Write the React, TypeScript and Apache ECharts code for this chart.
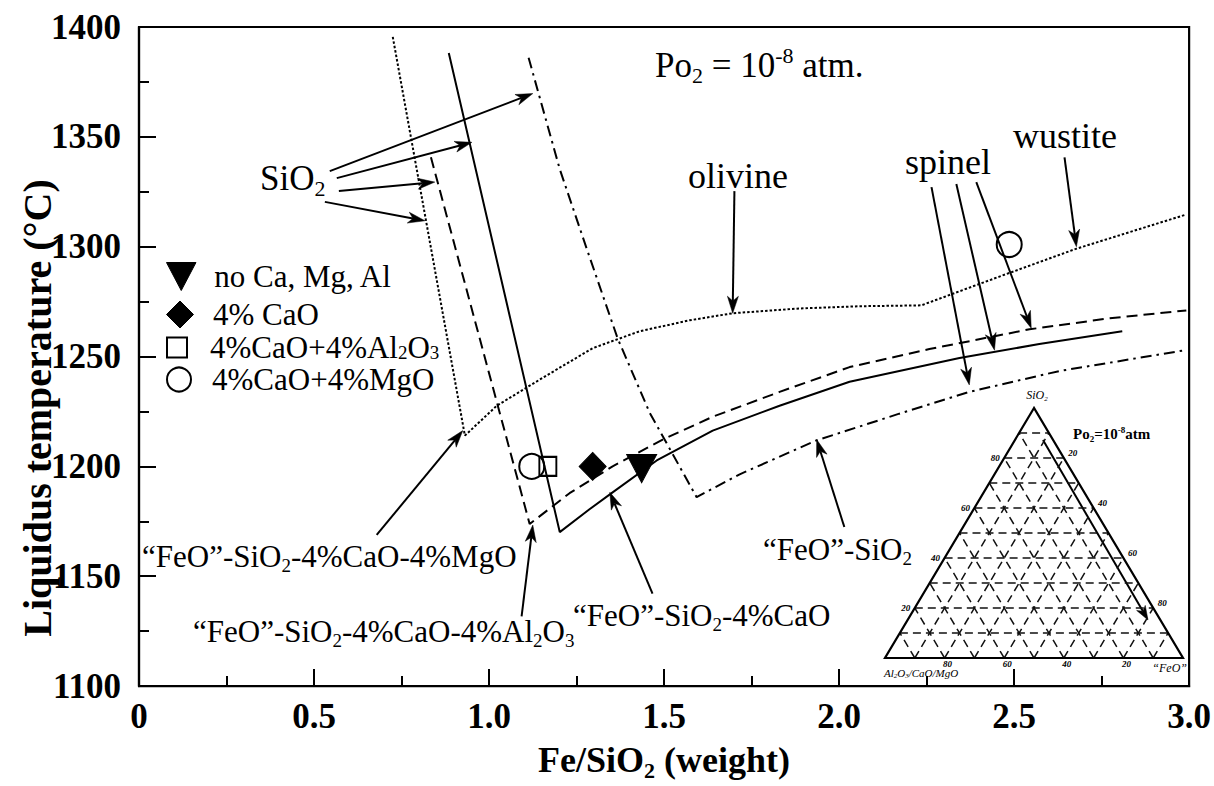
import React, { useEffect, useRef } from 'react';
import * as echarts from 'echarts';

const SERIF = '"Liberation Serif", "Times New Roman", Times, serif';

// ---- axes ----
const xMin = 0;
const xMax = 3.0;
const xInterval = 0.5;
const yMin = 1100;
const yMax = 1400;
const yInterval = 50;

// ---- liquidus curves [Fe/SiO2, T (°C)] ----
// "FeO"-SiO2-4%CaO-4%MgO (dotted)
const curveCaOMgO: number[][] = [
  [0.725, 1395.5], [0.931, 1214.0], [1.022, 1227.6], [1.153, 1240.3], [1.296, 1253.8],
  [1.430, 1261.5], [1.573, 1266.5], [1.696, 1269.7], [1.887, 1271.9], [2.058, 1272.9],
  [2.235, 1273.3], [2.458, 1286.4], [2.678, 1299.1], [2.989, 1314.5],
];
// "FeO"-SiO2-4%CaO-4%Al2O3 (dashed)
const curveCaOAl2O3: number[][] = [
  [0.834, 1340.7], [1.116, 1173.8], [1.230, 1187.8], [1.353, 1200.0], [1.496, 1212.2],
  [1.639, 1222.6], [1.830, 1233.9], [2.030, 1245.2], [2.258, 1253.4], [2.544, 1262.4],
  [2.772, 1267.4], [2.992, 1271.0],
];
// "FeO"-SiO2-4%CaO (solid)
const curveCaO: number[][] = [
  [0.885, 1388.2], [1.202, 1170.1], [1.287, 1180.5], [1.353, 1188.2], [1.479, 1202.7],
  [1.639, 1216.3], [1.830, 1227.6], [2.030, 1238.5], [2.344, 1249.3], [2.572, 1255.7],
  [2.809, 1261.5],
];
// "FeO"-SiO2 (dash-dot)
const curveFeOSiO2: number[][] = [
  [1.113, 1386.0], [1.202, 1335.3], [1.279, 1299.1], [1.367, 1258.4], [1.459, 1224.4],
  [1.593, 1186.0], [1.716, 1196.4], [1.935, 1211.8], [2.172, 1224.0], [2.372, 1233.9],
  [2.629, 1243.4], [2.989, 1252.9],
];

// ---- measured points ----
const ptsNoCaMgAl: number[][] = [[1.436, 1199]];
const pts4CaO: number[][] = [[1.296, 1200]];
const pts4CaOAl2O3: number[][] = [[1.168, 1200]];
const pts4CaOMgO: number[][] = [[1.122, 1200], [2.486, 1301]];

// ---- annotation arrows [from, to] in data units ----
const arrowsData: number[][][] = [
  [[0.545, 1334.4], [1.125, 1369.7]],
  [[0.565, 1331.2], [0.951, 1347.5]],
  [[0.571, 1325.3], [0.845, 1329.4]],
  [[0.531, 1320.4], [0.817, 1311.8]],
  [[1.701, 1325.3], [1.696, 1269.7]],
  [[2.644, 1340.7], [2.678, 1300.0]],
  [[2.264, 1327.1], [2.372, 1237.1]],
  [[2.335, 1328.5], [2.444, 1252.9]],
  [[2.392, 1329.4], [2.549, 1262.9]],
  [[0.679, 1168.8], [0.925, 1216.3]],
  [[1.093, 1131.7], [1.125, 1173.3]],
  [[1.467, 1142.1], [1.345, 1188.2]],
  [[2.015, 1172.4], [1.936, 1212.2]],
];

// ---- inset ternary tick values ----
const ternaryTicks = [20, 40, 60, 80];
const ternaryDivisions = 10;

const legendLabels: Record<string, string> = {
  'no Ca, Mg, Al': '{n|no Ca, Mg, Al}',
  '4% CaO': '{n|4% CaO}',
  '4%CaO+4%Al2O3': '{n|4%CaO+4%Al}{s|2}{n|O}{s|3}',
  '4%CaO+4%MgO': '{n|4%CaO+4%MgO}',
};

const TRI_DOWN = 'path://M0,0L20,0L10,19Z';
const DIAMOND = 'path://M10,0L20,10L10,20L0,10Z';
const SQUARE = 'path://M0,0H20V20H0Z';

function richSet(size: number, weight: string = 'normal', fstyle: string = 'normal', lh?: number) {
  const small = Math.round(size * 0.62);
  return {
    n: { fontFamily: SERIF, fontSize: size, fontWeight: weight, fontStyle: fstyle, lineHeight: lh || Math.round(size * 1.2), fill: '#000', color: '#000' },
    s: { fontFamily: SERIF, fontSize: small, fontWeight: weight, fontStyle: fstyle, lineHeight: small, verticalAlign: 'bottom', fill: '#000', color: '#000' },
    p: { fontFamily: SERIF, fontSize: small, fontWeight: weight, fontStyle: fstyle, lineHeight: small, verticalAlign: 'top', fill: '#000', color: '#000' },
  };
}

function txt(text: string, x: number, y: number, size: number, opts: any = {}) {
  const weight = opts.weight || 'normal';
  const fstyle = opts.fstyle || 'normal';
  const align = opts.align || 'left';
  return {
    type: 'text',
    x,
    y,
    rotation: opts.rotation || 0,
    z: 60,
    silent: true,
    style: {
      text,
      fill: '#000',
      fontFamily: SERIF,
      fontSize: size,
      fontWeight: weight,
      fontStyle: fstyle,
      lineHeight: Math.round(size * 1.2),
      align,
      textAlign: align,
      verticalAlign: 'middle',
      textVerticalAlign: 'middle',
      rich: richSet(size, weight, fstyle),
    },
  };
}

function arrowShape(p1: number[], p2: number[], L: number, W: number, lw: number) {
  const dx = p2[0] - p1[0];
  const dy = p2[1] - p1[1];
  const len = Math.hypot(dx, dy) || 1;
  const ux = dx / len;
  const uy = dy / len;
  const bx = p2[0] - ux * L;
  const by = p2[1] - uy * L;
  const nx = p2[0] - ux * L * 0.72;
  const ny = p2[1] - uy * L * 0.72;
  return {
    type: 'group',
    children: [
      { type: 'line', shape: { x1: p1[0], y1: p1[1], x2: nx, y2: ny }, style: { stroke: '#000', lineWidth: lw } },
      {
        type: 'polygon',
        shape: { points: [[p2[0], p2[1]], [bx - uy * W, by + ux * W], [nx, ny], [bx + uy * W, by - ux * W]] },
        style: { fill: '#000', stroke: '#000', lineWidth: 0.5 },
      },
    ],
  };
}

function ternaryGraphics() {
  const A = [1034, 408];
  const B = [885, 658];
  const C = [1183, 658];
  const mix = (p: number[], q: number[], t: number) => [p[0] + (q[0] - p[0]) * t, p[1] + (q[1] - p[1]) * t];
  const els: any[] = [];
  const dash = { stroke: '#111', lineWidth: 1.5, lineDash: [8, 5], fill: null };
  for (let i = 1; i < ternaryDivisions; i++) {
    const t = i / ternaryDivisions;
    const segs = [
      [mix(B, A, t), mix(C, A, t)],
      [mix(C, B, t), mix(A, B, t)],
      [mix(B, C, t), mix(A, C, t)],
    ];
    segs.forEach((s) =>
      els.push({ type: 'line', silent: true, z: 40, shape: { x1: s[0][0], y1: s[0][1], x2: s[1][0], y2: s[1][1] }, style: dash })
    );
  }
  els.push({
    type: 'polygon',
    silent: true,
    z: 41,
    shape: { points: [A, B, C] },
    style: { fill: 'rgba(0,0,0,0)', stroke: '#000', lineWidth: 2.2 },
  });
  ternaryTicks.forEach((v) => {
    const l = mix(B, A, v / 100);
    els.push(txt(String(v), l[0] - 9, l[1], 9, { fstyle: 'italic', weight: 'bold', align: 'center' }));
    const r = mix(A, C, v / 100);
    els.push(txt(String(v), r[0] + 9, r[1] - 5, 9, { fstyle: 'italic', weight: 'bold', align: 'center' }));
    const b = mix(C, B, v / 100);
    els.push(txt(String(v), b[0] + 3, b[1] + 6, 9, { fstyle: 'italic', weight: 'bold', align: 'center' }));
  });
  els.push(txt('SiO{s|2}', 1037, 395, 12, { fstyle: 'italic', align: 'center' }));
  els.push(txt('Al{s|2}O{s|3}/CaO/MgO', 884, 673, 11, { fstyle: 'italic' }));
  els.push(txt('“FeO”', 1187, 668, 12, { fstyle: 'italic', align: 'right' }));
  els.push(txt('Po{s|2}=10{p|-8}atm', 1073, 434, 15, { weight: 'bold' }));
  const arr: any = arrowShape([1043, 440], [1148, 620], 14, 5, 2);
  arr.z = 42;
  arr.silent = true;
  els.push(arr);
  return els;
}

function buildOption() {
  const axisCommon = {
    type: 'value',
    axisLine: { show: true, onZero: false, lineStyle: { color: '#000', width: 2.2 } },
    axisTick: { show: true, inside: true, length: 17, lineStyle: { color: '#000', width: 2 } },
    minorTick: { show: true, splitNumber: 2, length: 10, lineStyle: { color: '#000', width: 2 } },
    splitLine: { show: false },
    minorSplitLine: { show: false },
  };
  const lineBase = (name: string, data: number[][], type: any) => ({
    name,
    type: 'line',
    data,
    showSymbol: false,
    symbol: 'none',
    silent: true,
    z: 3,
    lineStyle: { color: '#000', width: 2, type, opacity: 1 },
  });
  const scatterBase = (name: string, data: number[][], symbol: string, size: any, filled: boolean) => ({
    name,
    type: 'scatter',
    data,
    symbol,
    symbolSize: size,
    z: 6,
    silent: true,
    itemStyle: filled
      ? { color: '#000', borderColor: '#000', borderWidth: 1, opacity: 1 }
      : { color: 'rgba(0,0,0,0)', borderColor: '#000', borderWidth: 2, opacity: 1 },
  });
  const legendDefs = [
    { name: 'no Ca, Mg, Al', icon: TRI_DOWN, h: 28, cy: 275, filled: true },
    { name: '4% CaO', icon: DIAMOND, h: 27, cy: 313, filled: true },
    { name: '4%CaO+4%Al2O3', icon: SQUARE, h: 20, cy: 346, filled: false },
    { name: '4%CaO+4%MgO', icon: 'circle', h: 24, cy: 378, filled: false },
  ];
  return {
    animation: false,
    backgroundColor: '#fff',
    textStyle: { fontFamily: SERIF, color: '#000' },
    grid: { left: 139, right: 24, top: 27, bottom: 96, show: true, borderColor: '#000', borderWidth: 2.2, backgroundColor: 'rgba(0,0,0,0)' },
    xAxis: {
      ...axisCommon,
      min: xMin,
      max: xMax,
      interval: xInterval,
      name: '{n|Fe/SiO}{s|2}{n| (weight)}',
      nameLocation: 'middle',
      nameGap: 33,
      nameTextStyle: { fontFamily: SERIF, fontSize: 36, fontWeight: 'bold', color: '#000', lineHeight: 42, rich: richSet(36, 'bold', 'normal', 42) },
      axisLabel: {
        fontFamily: SERIF,
        fontSize: 35,
        fontWeight: 'bold',
        color: '#000',
        margin: 13,
        formatter: (v: number) => (v === 0 ? '0' : v.toFixed(1)),
      },
    },
    yAxis: {
      ...axisCommon,
      min: yMin,
      max: yMax,
      interval: yInterval,
      axisLabel: { fontFamily: SERIF, fontSize: 35, fontWeight: 'bold', color: '#000', margin: 18, formatter: (v: number) => String(v) },
    },
    legend: legendDefs.map((d) => ({
      data: [d.name],
      left: 166,
      top: d.cy - Math.max(14, d.h / 2),
      padding: 0,
      orient: 'vertical',
      selectedMode: false,
      itemWidth: 56,
      itemHeight: d.h,
      icon: d.icon,
      itemStyle: d.filled
        ? { color: '#000', borderColor: '#000', borderWidth: 1, opacity: 1 }
        : { color: 'rgba(0,0,0,0)', borderColor: '#000', borderWidth: 2, opacity: 1 },
      formatter: (n: string) => legendLabels[n] || n,
      textStyle: { fontFamily: SERIF, fontSize: 31, color: '#000', lineHeight: 28, rich: richSet(31, 'normal', 'normal', 28) },
    })),
    series: [
      lineBase('“FeO”-SiO2-4%CaO-4%MgO', curveCaOMgO, [2.5, 2]),
      lineBase('“FeO”-SiO2-4%CaO-4%Al2O3', curveCaOAl2O3, [11, 6]),
      lineBase('“FeO”-SiO2-4%CaO', curveCaO, 'solid'),
      lineBase('“FeO”-SiO2', curveFeOSiO2, [11, 5, 2.5, 5]),
      {
        name: 'arrows',
        type: 'custom',
        coordinateSystem: 'cartesian2d',
        silent: true,
        z: 5,
        encode: { x: [0, 2], y: [1, 3] },
        data: arrowsData.map((a) => [a[0][0], a[0][1], a[1][0], a[1][1]]),
        renderItem: (_params: any, api: any) => {
          const p1 = api.coord([api.value(0), api.value(1)]);
          const p2 = api.coord([api.value(2), api.value(3)]);
          return arrowShape(p1, p2, 17, 5.5, 2);
        },
      },
      scatterBase('no Ca, Mg, Al', ptsNoCaMgAl, TRI_DOWN, [30, 28], true),
      scatterBase('4% CaO', pts4CaO, DIAMOND, [27, 28], true),
      scatterBase('4%CaO+4%Al2O3', pts4CaOAl2O3, SQUARE, [17, 19], false),
      scatterBase('4%CaO+4%MgO', pts4CaOMgO, 'circle', 25, false),
    ],
    graphic: [
      txt('Liquidus temperature (°C)', 37, 408, 40, { weight: 'bold', align: 'center', rotation: Math.PI / 2 }),
      txt('Po{s|2} = 10{p|-8} atm.', 655, 65, 35),
      txt('SiO{s|2}', 260, 178, 35),
      txt('olivine', 688, 176, 36),
      txt('spinel', 905, 162, 36),
      txt('wustite', 1013, 136, 36),
      txt('“FeO”-SiO{s|2}-4%CaO-4%MgO', 142, 556, 31),
      txt('“FeO”-SiO{s|2}-4%CaO-4%Al{s|2}O{s|3}', 193, 631, 31),
      txt('“FeO”-SiO{s|2}-4%CaO', 573, 615, 31),
      txt('“FeO”-SiO{s|2}', 763, 549, 31),
      ...ternaryGraphics(),
    ],
  };
}

export default function App() {
  const ref = useRef<HTMLDivElement>(null);
  useEffect(() => {
    document.body.style.margin = '0';
    const chart = echarts.init(ref.current as HTMLDivElement, null, { renderer: 'svg' });
    chart.setOption(buildOption() as any);
    return () => chart.dispose();
  }, []);
  return <div ref={ref} style={{ width: 1214, height: 786 }} />;
}
